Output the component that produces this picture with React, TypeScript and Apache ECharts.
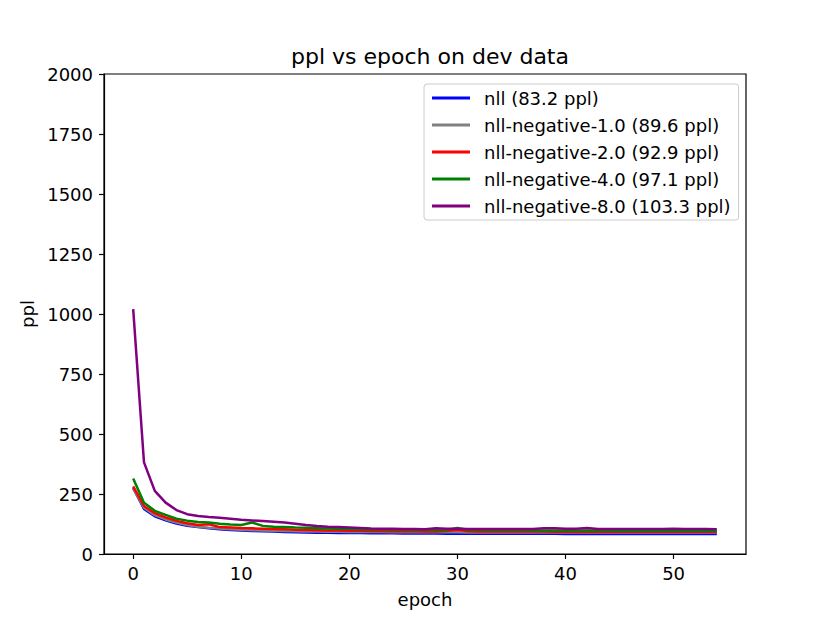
import React, { useEffect, useRef } from "react";
import * as echarts from "echarts";

const epochs = [
  0, 1, 2, 3, 4, 5, 6, 7, 8, 9, 10, 11, 12, 13, 14, 15, 16, 17, 18, 19, 20, 21, 22, 23, 24, 25, 26, 27,
  28, 29, 30, 31, 32, 33, 34, 35, 36, 37, 38, 39, 40, 41, 42, 43, 44, 45, 46, 47, 48, 49, 50, 51, 52, 53, 54,
];

const nll = [
  275, 188, 157, 140, 127, 118, 112, 107, 103, 100, 98, 96, 95, 93.5, 92, 91, 90, 89, 88.5, 88, 87.5, 87,
  86.5, 86, 86, 85.5, 85.5, 85, 85, 84.8, 84.6, 84.5, 84.4, 84.3, 85, 84.2, 84, 84, 84, 83.9, 83.8, 83.7,
  83.6, 83.6, 83.5, 83.5, 83.4, 83.4, 83.3, 83.3, 83.3, 83.2, 83.2, 83.2, 83.2,
];
const neg1 = [
  272, 193, 162, 144, 131, 121, 114, 109, 106, 103, 101, 99, 98, 97, 96, 95, 94, 93.5, 93, 92.5, 92, 91.8,
  91.5, 91.2, 91, 90.8, 90.6, 90.5, 90.4, 90.3, 90.2, 90.1, 90, 90, 89.9, 89.9, 89.8, 89.8, 89.8, 89.7,
  89.7, 89.7, 89.7, 89.6, 89.6, 89.6, 89.6, 89.6, 89.6, 89.6, 89.6, 89.6, 89.6, 89.6, 89.6,
];
const neg2 = [
  282, 200, 170, 152, 138, 128, 121, 124, 112, 110, 108, 107, 105, 104, 103, 101, 100, 99, 98, 97.5, 97,
  96.5, 96, 95.5, 95, 95, 94.5, 94, 94, 96, 101, 95, 94, 93.8, 93.6, 93.5, 93.4, 93.3, 93.3, 93.2, 93.2,
  93.1, 93.1, 93, 93, 93, 93, 92.9, 92.9, 92.9, 93, 92.9, 92.9, 92.9, 92.9,
];
const neg4 = [
  315, 214, 180, 163, 147, 139, 133, 131, 126, 123, 121, 131, 117, 114, 112, 110, 109, 107.5, 106, 105,
  104, 103, 102.5, 102, 101.5, 101, 100.5, 100, 100, 99.8, 108, 100, 99.5, 99, 99, 98.5, 98.5, 98, 98,
  97.8, 97.6, 97.5, 97.5, 97.4, 97.4, 97.3, 97.3, 97.3, 97.2, 97.2, 97.2, 97.1, 97.1, 97.1, 97.1,
];
const neg8 = [
  1020, 382, 263, 214, 183, 166, 158, 154, 151, 147, 143, 140, 137, 134, 131, 126, 121, 117, 114, 112,
  110, 108, 106, 105, 105, 104, 104, 103.5, 107, 105, 105, 104.5, 104, 104, 104, 104, 104.5, 104, 107,
  107, 105, 105.5, 108, 104.5, 104.5, 104.5, 104.5, 104.5, 104.5, 104.5, 105, 104.5, 104.5, 104, 103.3,
];

const seriesNames = [
  "nll (83.2 ppl)",
  "nll-negative-1.0 (89.6 ppl)",
  "nll-negative-2.0 (92.9 ppl)",
  "nll-negative-4.0 (97.1 ppl)",
  "nll-negative-8.0 (103.3 ppl)",
];
const seriesValues = [nll, neg1, neg2, neg4, neg8];
const seriesColors = ["#0000ff", "#808080", "#ff0000", "#008000", "#800080"];

const xTicks = [0, 10, 20, 30, 40, 50];
const yTicks = [0, 250, 500, 750, 1000, 1250, 1500, 1750, 2000];

const FONT = "DejaVu Sans";

export default function App() {
  const ref = useRef<HTMLDivElement>(null);
  useEffect(() => {
    if (!ref.current) return;
    const chart = echarts.init(ref.current, undefined, { renderer: "svg" });
    chart.setOption({
      animation: false,
      backgroundColor: "#ffffff",
      title: {
        text: "ppl vs epoch on dev data",
        left: 425,
        top: 40,
        textAlign: "center",
        textStyle: { fontFamily: FONT, fontSize: 22, fontWeight: "normal", color: "#000" },
      },
      grid: {
        left: 104,
        top: 74,
        width: 642,
        height: 480,
        show: true,
        borderColor: "#000",
        borderWidth: 1.2,
        backgroundColor: "transparent",
      },
      legend: {
        orient: "vertical",
        left: 424,
        top: 84,
        padding: [4, 8, 4, 8],
        itemWidth: 38,
        itemHeight: 3,
        itemGap: 7,
        icon: "rect",
        borderColor: "#cccccc",
        borderWidth: 1,
        borderRadius: 3,
        backgroundColor: "rgba(255,255,255,0.8)",
        textStyle: {
          fontFamily: FONT,
          fontSize: 18,
          color: "#000",
          lineHeight: 20,
          padding: [0, 0, 0, 9],
        },
        data: seriesNames,
      },
      xAxis: {
        type: "value",
        min: -2.7,
        max: 56.7,
        name: "epoch",
        nameLocation: "middle",
        nameGap: 36,
        nameTextStyle: { fontFamily: FONT, fontSize: 18, color: "#000" },
        splitLine: { show: false },
        axisLine: { show: true, onZero: false, lineStyle: { color: "#000", width: 1.2 } },
        axisTick: { show: true, length: 5, lineStyle: { color: "#000", width: 1.2 }, customValues: xTicks },
        axisLabel: {
          fontFamily: FONT,
          fontSize: 18,
          color: "#000",
          margin: 10,
          customValues: xTicks,
          formatter: (v: number) => String(v),
        },
      },
      yAxis: {
        type: "value",
        min: 0,
        max: 2000,
        interval: 250,
        name: "ppl",
        nameLocation: "middle",
        nameGap: 64,
        nameTextStyle: { fontFamily: FONT, fontSize: 18, color: "#000" },
        splitLine: { show: false },
        axisLine: { show: true, onZero: false, lineStyle: { color: "#000", width: 1.2 } },
        axisTick: { show: true, length: 5, lineStyle: { color: "#000", width: 1.2 }, customValues: yTicks },
        axisLabel: {
          fontFamily: FONT,
          fontSize: 18,
          color: "#000",
          margin: 11,
          customValues: yTicks,
          formatter: (v: number) => String(v),
        },
      },
      series: seriesNames.map((name, i) => ({
        name,
        type: "line",
        symbol: "none",
        showSymbol: false,
        color: seriesColors[i],
        lineStyle: { color: seriesColors[i], width: 2.5 },
        itemStyle: { color: seriesColors[i] },
        data: epochs.map((e, j) => [e, seriesValues[i][j]]),
        z: 2 + i,
      })),
    });
    return () => chart.dispose();
  }, []);
  return (
    <div
      ref={ref}
      style={{ position: "fixed", left: 0, top: 0, width: 830, height: 623, background: "#fff" }}
    />
  );
}
